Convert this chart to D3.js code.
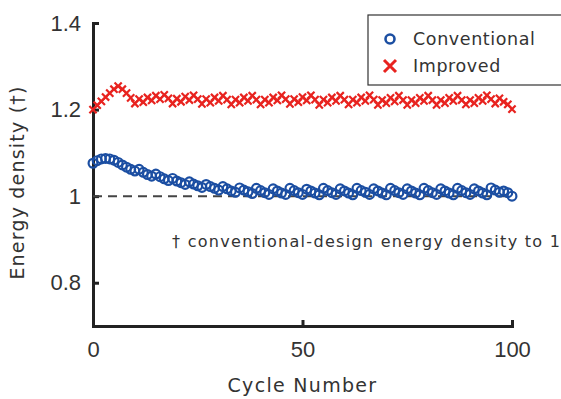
<!DOCTYPE html>
<html>
<head>
<meta charset="utf-8">
<script src="https://cdn.jsdelivr.net/npm/d3@7"></script>
<style>
  body { margin: 0; background: #fff; }
  svg { display: block; font-family: "DejaVu Sans", Verdana, sans-serif; }
  .axis path, .axis line { stroke: #222; stroke-width: 3; }
  .axis text { fill: #333; font-size: 22px; }
</style>
</head>
<body>
<div id="svg-container"></div>
<script>
// data
const cycles = d3.range(0, 101);
const conventional = [
  1.076, 1.082, 1.086, 1.087, 1.086, 1.083, 1.078, 1.072, 1.067, 1.062,
  1.058, 1.062, 1.055, 1.050, 1.046, 1.051, 1.045, 1.040, 1.036, 1.041,
  1.035, 1.031, 1.027, 1.033, 1.028, 1.024, 1.020, 1.027, 1.022, 1.018,
  1.014, 1.022, 1.017, 1.012, 1.009, 1.019, 1.014, 1.010, 1.006, 1.018,
  1.013, 1.008, 1.004, 1.017, 1.012, 1.007, 1.004, 1.018, 1.013, 1.008,
  1.004, 1.016, 1.012, 1.007, 1.003, 1.018, 1.013, 1.008, 1.004, 1.017,
  1.012, 1.007, 1.003, 1.018, 1.013, 1.009, 1.004, 1.017, 1.012, 1.007,
  1.003, 1.018, 1.013, 1.008, 1.004, 1.017, 1.012, 1.007, 1.003, 1.018,
  1.013, 1.008, 1.004, 1.017, 1.012, 1.007, 1.003, 1.018, 1.013, 1.008,
  1.004, 1.017, 1.012, 1.007, 1.003, 1.019, 1.014, 1.009, 1.012, 1.008,
  1.000
];
const improved = [
  1.200, 1.210, 1.219, 1.229, 1.238, 1.247, 1.254, 1.247, 1.238, 1.227,
  1.214, 1.224, 1.217, 1.228, 1.221, 1.232, 1.224, 1.234, 1.226, 1.214,
  1.225, 1.218, 1.230, 1.222, 1.233, 1.224, 1.213, 1.224, 1.216, 1.228,
  1.220, 1.232, 1.223, 1.212, 1.223, 1.216, 1.228, 1.220, 1.232, 1.223,
  1.212, 1.223, 1.216, 1.228, 1.221, 1.233, 1.224, 1.213, 1.224, 1.217,
  1.229, 1.221, 1.233, 1.223, 1.211, 1.223, 1.216, 1.228, 1.220, 1.232,
  1.223, 1.212, 1.223, 1.216, 1.228, 1.220, 1.233, 1.223, 1.211, 1.222,
  1.215, 1.227, 1.219, 1.232, 1.222, 1.211, 1.222, 1.215, 1.227, 1.220,
  1.232, 1.222, 1.211, 1.222, 1.215, 1.227, 1.220, 1.232, 1.222, 1.212,
  1.222, 1.215, 1.227, 1.220, 1.233, 1.224, 1.214, 1.226, 1.218, 1.212,
  1.201
];
const xTicks = [0, 50, 100];
const yTicks = [0.8, 1, 1.2, 1.4];
const seriesNames = ["Conventional", "Improved"];
const note = "\u2020 conventional-design energy density to 1";

// svg
const width = 561, height = 399;
const margin = { top: 23, right: 49, bottom: 73, left: 93 };

const svg = d3.select("#svg-container").append("svg")
  .attr("width", width).attr("height", height);

const xScale = d3.scaleLinear().domain([0, 100]).range([margin.left, width - margin.right]);
const yScale = d3.scaleLinear().domain([0.7, 1.4]).range([height - margin.bottom, margin.top]);

// axes (ticks point inward)
const xAxis = d3.axisBottom(xScale).tickValues(xTicks).tickSizeInner(-6).tickSizeOuter(0).tickPadding(15)
  .tickFormat(d3.format("d"));
const yAxis = d3.axisLeft(yScale).tickValues(yTicks).tickSizeInner(-6).tickSizeOuter(0).tickPadding(12)
  .tickFormat(d => d === 1 ? "1" : d3.format(".1f")(d));

svg.append("g").attr("class", "axis x-axis")
  .attr("transform", `translate(0,${height - margin.bottom})`)
  .call(xAxis);
svg.append("g").attr("class", "axis y-axis")
  .attr("transform", `translate(${margin.left},0)`)
  .call(yAxis);
svg.selectAll(".x-axis text").attr("dy", "0.71em");
svg.selectAll(".axis .domain").attr("stroke-linecap", "square");

// reference line at 1
svg.append("line")
  .attr("x1", xScale(0)).attr("x2", xScale(100))
  .attr("y1", yScale(1)).attr("y2", yScale(1))
  .attr("stroke", "#444").attr("stroke-width", 2)
  .attr("stroke-dasharray", "9,6");

// improved (red x)
const xSize = 3.6;
svg.append("g").selectAll("path")
  .data(cycles)
  .join("path")
  .attr("d", d => {
    const cx = xScale(d), cy = yScale(improved[d]);
    return `M${cx - xSize},${cy - xSize}L${cx + xSize},${cy + xSize}M${cx - xSize},${cy + xSize}L${cx + xSize},${cy - xSize}`;
  })
  .attr("stroke", "#e8231f").attr("stroke-width", 2.2).attr("fill", "none");

// conventional (blue o)
svg.append("g").selectAll("circle")
  .data(cycles)
  .join("circle")
  .attr("cx", d => xScale(d))
  .attr("cy", d => yScale(conventional[d]))
  .attr("r", 4.4)
  .attr("fill", "none")
  .attr("stroke", "#1b4ea2").attr("stroke-width", 2.2);

// axis labels
svg.append("text")
  .attr("x", (xScale(0) + xScale(100)) / 2).attr("y", 392)
  .attr("text-anchor", "middle").attr("fill", "#333").attr("font-size", 19)
  .attr("letter-spacing", 1.3)
  .text("Cycle Number");
svg.append("text")
  .attr("transform", `translate(24,${(yScale(0.7) + yScale(1.4)) / 2 + 8}) rotate(-90)`)
  .attr("text-anchor", "middle").attr("fill", "#333").attr("font-size", 19)
  .attr("letter-spacing", 1.2)
  .text("Energy density (\u2020)");

// annotation
svg.append("text")
  .attr("x", 172).attr("y", 247)
  .attr("fill", "#333").attr("font-size", 16)
  .attr("letter-spacing", 1.3)
  .text(note);

// legend
const legend = svg.append("g").attr("transform", "translate(368,15)");
legend.append("rect")
  .attr("x", 0).attr("y", 0).attr("width", 200).attr("height", 70)
  .attr("fill", "#fff").attr("stroke", "#333").attr("stroke-width", 1.2);
const rows = legend.selectAll("g.row").data(seriesNames).join("g")
  .attr("class", "row")
  .attr("transform", (d, i) => `translate(0,${24 + i * 27})`);
rows.each(function (d, i) {
  const g = d3.select(this);
  if (i === 0) {
    g.append("circle").attr("cx", 22).attr("cy", 0).attr("r", 4.5)
      .attr("fill", "none").attr("stroke", "#1b4ea2").attr("stroke-width", 2.6);
  } else {
    g.append("path").attr("d", "M16,-6L28,6M16,6L28,-6")
      .attr("stroke", "#e8231f").attr("stroke-width", 3).attr("fill", "none");
  }
  g.append("text").attr("x", 45).attr("y", 0).attr("dy", "0.35em")
    .attr("fill", "#333").attr("font-size", 17.5).attr("letter-spacing", 0.6).text(d);
});
</script>
</body>
</html>
